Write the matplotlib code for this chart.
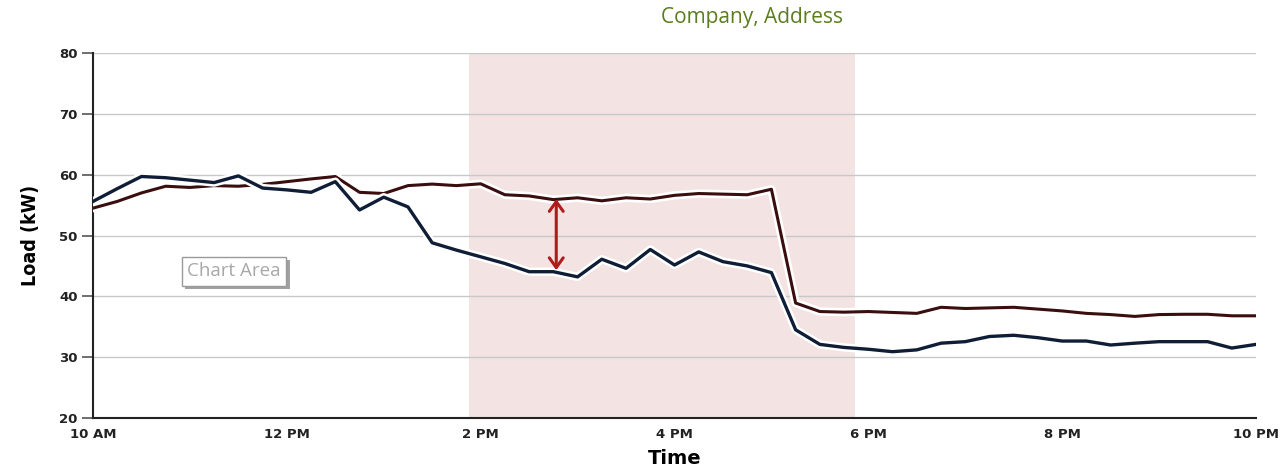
import matplotlib
matplotlib.use("Agg")
import matplotlib.pyplot as plt
import matplotlib.patheffects as pe
import numpy as np

# 15-minute intervals from 10 AM (10.0) to 10 PM (22.0)
hours = [10 + 0.25 * i for i in range(49)]

baseline = [54.5, 55.6, 57.0, 58.1, 57.9, 58.2, 58.1, 58.4, 58.85, 59.3,
            59.7, 57.1, 56.9, 58.2, 58.45, 58.2, 58.5, 56.7, 56.5, 55.9,
            56.2, 55.7, 56.2, 56.0, 56.6, 56.9, 56.8, 56.7, 57.6, 38.9,
            37.5, 37.4, 37.5, 37.35, 37.2, 38.2, 38.0, 38.1, 38.2, 37.9,
            37.6, 37.2, 37.0, 36.7, 37.0, 37.05, 37.05, 36.8, 36.8]

actual = [55.6, 57.7, 59.7, 59.5, 59.1, 58.7, 59.8, 57.8, 57.5, 57.1,
          58.85, 54.2, 56.3, 54.7, 48.8, 47.6, 46.5, 45.4, 44.05, 44.05,
          43.2, 46.1, 44.6, 47.7, 45.15, 47.3, 45.7, 45.0, 43.9, 34.5,
          32.1, 31.6, 31.3, 30.9, 31.2, 32.3, 32.55, 33.4, 33.6, 33.2,
          32.65, 32.65, 32.0, 32.3, 32.55, 32.55, 32.55, 31.5, 32.1]

xtick_pos = [10, 12, 14, 16, 18, 20, 22]
xtick_labels = ["10 AM", "12 PM", "2 PM", "4 PM", "6 PM", "8 PM", "10 PM"]
yticks = [20, 30, 40, 50, 60, 70, 80]

event_start, event_end = 13.88, 17.86
arrow_time, arrow_low, arrow_high = 14.78, 44.3, 56.0

fig = plt.figure(figsize=(12.87, 4.68), dpi=100)
ax = fig.add_axes([93 / 1287, 1 - 418 / 468, (1256 - 93) / 1287, (418 - 53) / 468])

ax.axvspan(event_start, event_end, color="#f3e3e3", zorder=0, lw=0)

glow = [pe.Stroke(linewidth=6, foreground="white"), pe.Normal()]
ax.plot(hours, baseline, color="#3a0e0e", lw=2.2, zorder=3, path_effects=glow,
        solid_joinstyle="round")
ax.plot(hours, actual, color="#0f1d36", lw=2.4, zorder=3, path_effects=glow,
        solid_joinstyle="round")

ax.annotate("", xy=(arrow_time, arrow_high), xytext=(arrow_time, arrow_low),
            arrowprops=dict(arrowstyle="<->,head_length=0.7,head_width=0.5",
                            color="#b01c1c", lw=2.2, shrinkA=0, shrinkB=0),
            zorder=4)

ax.set_xlim(10, 22)
ax.set_ylim(20, 80)
ax.set_yticks(yticks)
ax.set_xticks(xtick_pos)
ax.set_xticklabels(xtick_labels)
ax.yaxis.grid(True, color="#c8c8c8", lw=1.0)
ax.set_axisbelow(True)
for s in ["top", "right"]:
    ax.spines[s].set_visible(False)
for s in ["left", "bottom"]:
    ax.spines[s].set_linewidth(1.5)
    ax.spines[s].set_color("#222222")
ax.tick_params(axis="y", length=8, width=1.2, color="#555555", labelsize=9.5, pad=3)
ax.tick_params(axis="x", length=0, labelsize=9.5, pad=7)
for lab in ax.get_xticklabels() + ax.get_yticklabels():
    lab.set_fontweight("bold")
    lab.set_color("#222222")

ax.set_xlabel("Time", fontsize=14, fontweight="bold", labelpad=6)
ax.set_ylabel("Load (kW)", fontsize=14, fontweight="bold", fontstretch="condensed",
              family=["Liberation Sans Narrow", "DejaVu Sans"], labelpad=14)

fig.text(752 / 1287, 1 - 18 / 468, "Company, Address", color="#5b7d1e",
         fontsize=15, family=["Open Sans", "DejaVu Sans"], ha="center", va="center")

# "Chart Area" tooltip
t = ax.text(11.455, 44.1, "Chart Area", fontsize=13.5, color="#a8a8a8",
            family=["Open Sans", "DejaVu Sans"], ha="center", va="center",
            bbox=dict(boxstyle="square,pad=0.3", fc="white", ec="#9a9a9a", lw=1.0),
            zorder=6)
t.get_bbox_patch().set_path_effects([
    pe.SimplePatchShadow(offset=(2.5, -2.5), shadow_rgbFace="#444444", alpha=0.5),
    pe.Normal()])

fig.savefig("out.png", dpi=100)
